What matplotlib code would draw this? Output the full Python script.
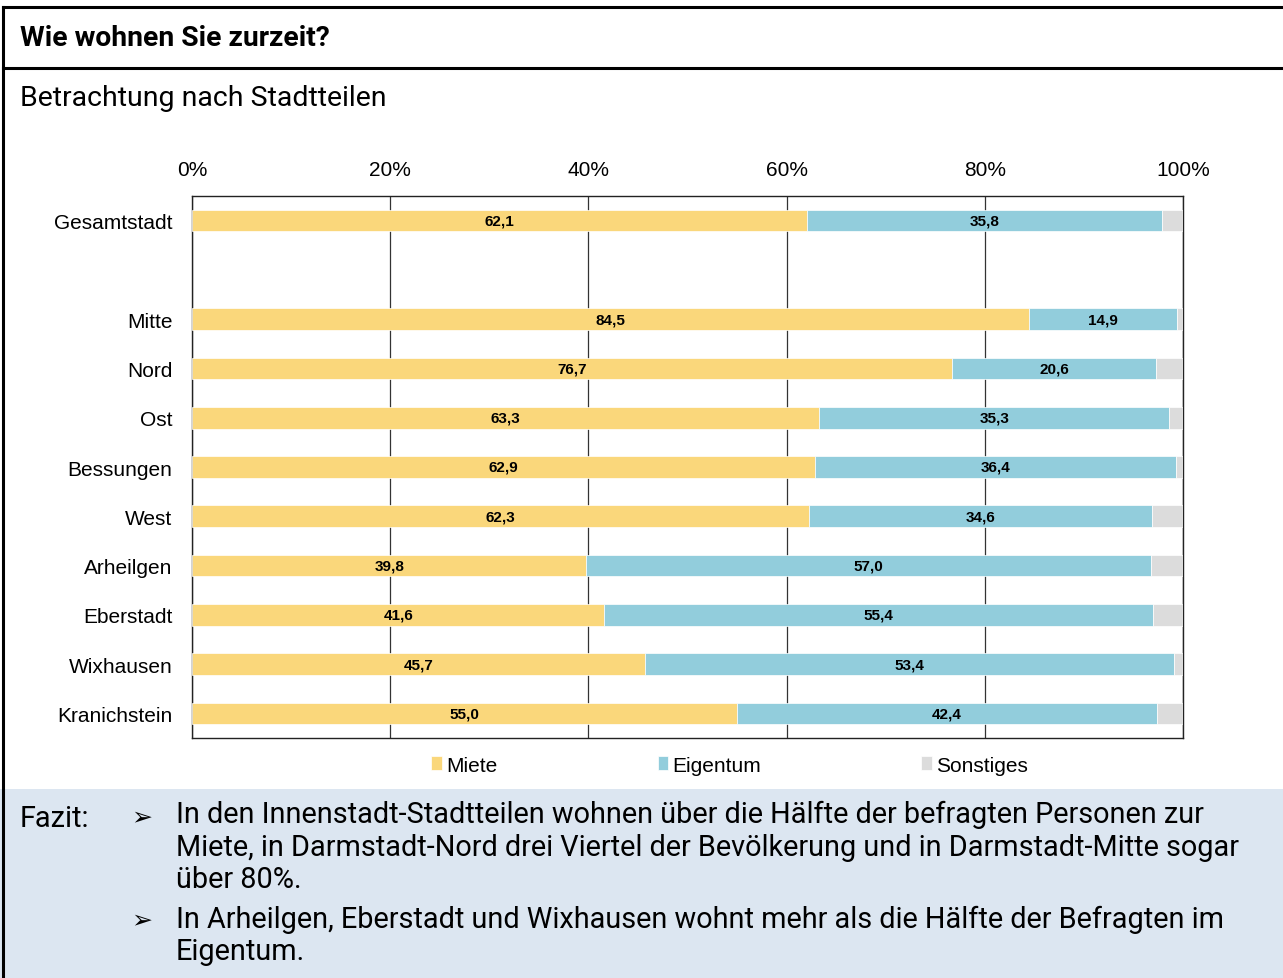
import numpy as np
import matplotlib
matplotlib.use('Agg')
import matplotlib.pyplot as plt
from matplotlib.patches import Rectangle
from matplotlib.lines import Line2D

# data
districts = ['Gesamtstadt', '', 'Mitte', 'Nord', 'Ost', 'Bessungen', 'West',
             'Arheilgen', 'Eberstadt', 'Wixhausen', 'Kranichstein']
miete = [62.1, np.nan, 84.5, 76.7, 63.3, 62.9, 62.3, 39.8, 41.6, 45.7, 55.0]
eigentum = [35.8, np.nan, 14.9, 20.6, 35.3, 36.4, 34.6, 57.0, 55.4, 53.4, 42.4]
sonstiges = [2.1, np.nan, 0.6, 2.7, 1.4, 0.7, 3.1, 3.2, 3.0, 0.9, 2.6]
series_names = ['Miete', 'Eigentum', 'Sonstiges']
xticks = [0, 20, 40, 60, 80, 100]

colors = ['#FAD77B', '#92CDDC', '#DCDCDC']

W, H = 1283, 979
fig = plt.figure(figsize=(W / 100, H / 100), dpi=100)

def fx(px):
    return px / W

def fy(py):
    return 1 - py / H

plt.rcParams['font.family'] = ['Liberation Sans', 'DejaVu Sans']
tfam = ['Roboto', 'DejaVu Sans']

# frame, header, fazit background
fig.add_artist(Rectangle((0, 0), 1, fy(790), transform=fig.transFigure,
                         facecolor='#DCE6F1', edgecolor='none', zorder=0))
for yy in [8, 69]:
    fig.add_artist(Line2D([fx(3), 1], [fy(yy), fy(yy)], color='black', lw=2.2,
                          transform=fig.transFigure))
fig.add_artist(Line2D([fx(3), fx(3)], [fy(8), 0], color='black', lw=2.2,
                      transform=fig.transFigure))

fig.text(fx(20), fy(39), 'Wie wohnen Sie zurzeit?', fontsize=20.3, fontweight='bold',
         family=tfam, va='center', ha='left')
fig.text(fx(20), fy(99), 'Betrachtung nach Stadtteilen', fontsize=20.5,
         family=tfam, va='center', ha='left')

# chart
ax = fig.add_axes([fx(192), fy(739), fx(1183) - fx(192), fy(197) - fy(739)])
y = np.arange(len(districts))
valid = ~np.isnan(np.array(miete))
left = np.zeros(len(districts))
for vals, name, c in zip([miete, eigentum, sonstiges], series_names, colors):
    v = np.nan_to_num(np.array(vals))
    ax.barh(y[valid], v[valid], left=left[valid], height=0.44, color=c,
            edgecolor='white', linewidth=0.5, label=name, zorder=3)
    if name != 'Sonstiges':
        for yi in y[valid]:
            ax.text(left[yi] + v[yi] / 2, yi, f'{v[yi]:.1f}'.replace('.', ','),
                    ha='center', va='center', fontsize=11, fontweight='bold', zorder=4)
    left = left + v

ax.set_xlim(0, 100)
ax.set_ylim(len(districts) - 0.5, -0.5)
ax.set_yticks(y)
ax.set_yticklabels(districts, fontsize=15)
ax.set_xticks(xticks)
ax.set_xticklabels([f'{t}%' for t in xticks], fontsize=15)
ax.xaxis.tick_top()
ax.tick_params(axis='both', length=0)
ax.tick_params(axis='x', pad=12)
ax.tick_params(axis='y', pad=14)
ax.grid(axis='x', color='#333333', lw=0.9, zorder=1)
for s in ax.spines.values():
    s.set_color('#222222')
    s.set_linewidth(1.0)

leg = ax.legend(loc='upper left', bbox_to_anchor=((423 - 192) / (1183 - 192), -0.017),
                ncol=3, frameon=False, fontsize=15, handlelength=0.5, handleheight=0.65,
                handletextpad=0.2, columnspacing=7.7, borderaxespad=0)

# Fazit
fs = 20.8
fig.text(fx(20), fy(819), 'Fazit:', fontsize=fs, family=tfam, va='center')
for yy in [817, 920]:
    fig.text(fx(131), fy(yy), '\u27a2', fontsize=18, family=['DejaVu Sans'], va='center')
lines = [
    (815, 'In den Innenstadt-Stadtteilen wohnen über die Hälfte der befragten Personen zur'),
    (848, 'Miete, in Darmstadt-Nord drei Viertel der Bevölkerung und in Darmstadt-Mitte sogar'),
    (880, 'über 80%.'),
    (920, 'In Arheilgen, Eberstadt und Wixhausen wohnt mehr als die Hälfte der Befragten im'),
    (952, 'Eigentum.'),
]
for yy, t in lines:
    fig.text(fx(176), fy(yy), t, fontsize=fs, family=tfam, va='center')

fig.savefig('out.png', dpi=100)
